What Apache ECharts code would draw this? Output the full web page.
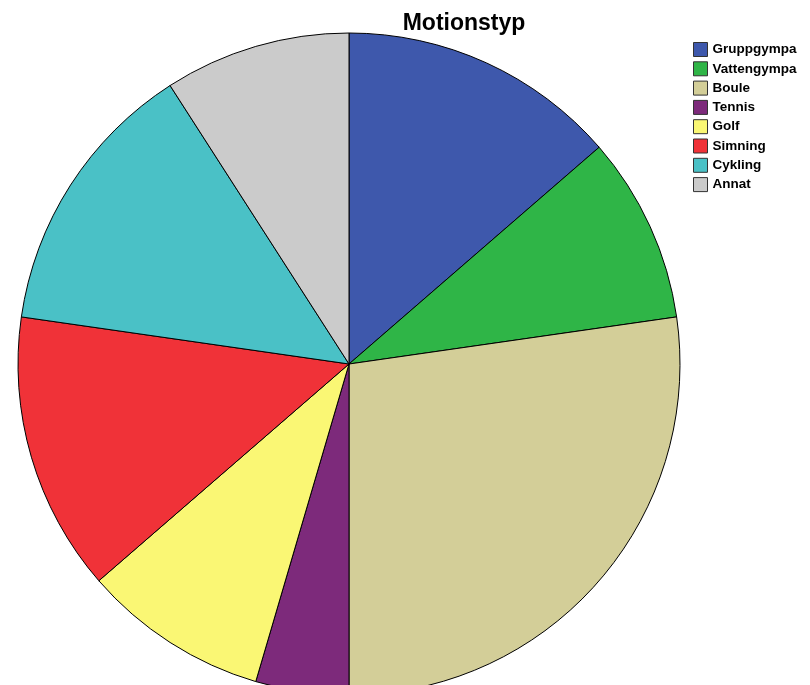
<!DOCTYPE html>
<html><head><meta charset="utf-8">
<script src="https://cdn.jsdelivr.net/npm/echarts@6/dist/echarts.min.js"></script>
<style>html,body{margin:0;padding:0;background:#fff}#c{width:810px;height:685px}</style>
</head><body><div id="c"></div>
<script>
const categories = ['Gruppgympa','Vattengympa','Boule','Tennis','Golf','Simning','Cykling','Annat'];
const counts = [3, 2, 6, 1, 2, 3, 3, 2];
const colors = ['#3E58AC','#2FB547','#D3CE98','#7D2A7B','#FAF774','#F03238','#4AC1C6','#CBCBCB'];

const chart = echarts.init(document.getElementById('c'), null, {renderer:'canvas'});
chart.setOption({
  animation: false,
  title: {
    text: 'Motionstyp', left: 459, top: 7, textAlign: 'center',
    textStyle: {fontFamily: 'Liberation Sans', fontWeight: 'bold', fontSize: 23, color: '#000'}
  },
  legend: {
    orient: 'vertical', left: 693, top: 42, padding: 0,
    itemWidth: 14, itemHeight: 14, itemGap: 4.3, icon: 'rect',
    textStyle: {fontFamily: 'Liberation Sans', fontWeight: 'bold', fontSize: 13.5, color: '#000', padding: [0,0,0,0], lineHeight: 14},
    itemStyle: {borderColor: '#333', borderWidth: 1},
    data: categories
  },
  color: colors,
  series: [{
    type: 'pie',
    center: [349, 364], radius: 331,
    startAngle: 90, clockwise: true,
    label: {show: false}, labelLine: {show: false},
    emphasis: {disabled: true},
    itemStyle: {borderColor: '#000', borderWidth: 1},
    data: categories.map((n, i) => ({name: n, value: counts[i]}))
  }]
});
</script></body></html>
